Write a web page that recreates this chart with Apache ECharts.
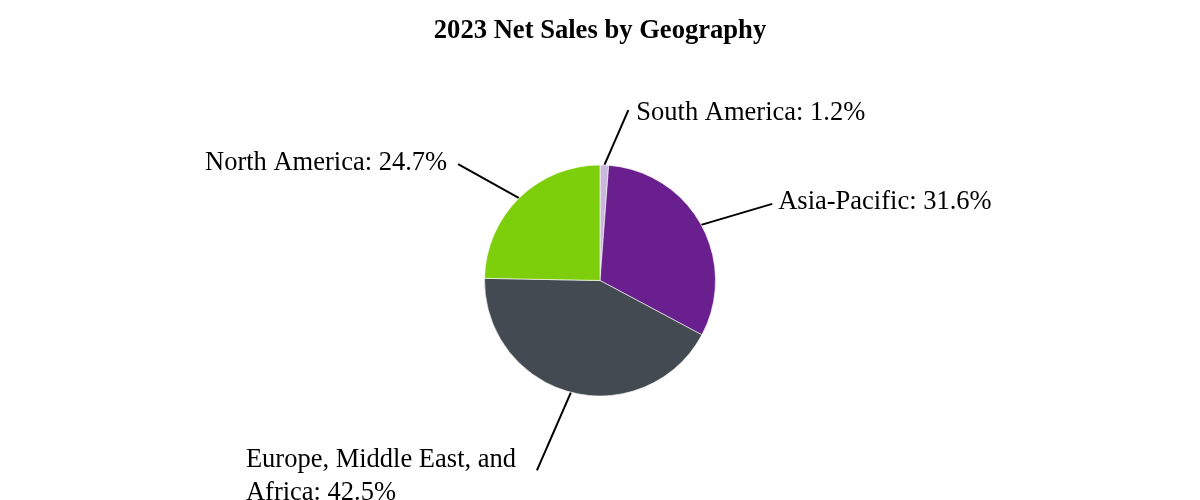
<!DOCTYPE html>
<html>
<head>
<meta charset="utf-8">
<script src="https://cdn.jsdelivr.net/npm/echarts@6/dist/echarts.min.js"></script>
<style>html,body{margin:0;padding:0;background:#fff;}#c{width:1200px;height:500px;}</style>
</head>
<body>
<div id="c"></div>
<script>
const titleText = '2023 Net Sales by Geography';
const categories = ['South America', 'Asia-Pacific', 'Europe, Middle East, and Africa', 'North America'];
const values = [1.2, 31.6, 42.5, 24.7];
const colors = ['#c9b7dc', '#6a1f8e', '#434a51', '#7ecf0b'];

// label placement style: line vector from slice edge, text anchor offset from line end
const labelStyle = [
  {lx: 24, ly: -55, align: 'left', tx: 8, ty: 2.5},
  {lx: 71, ly: -21, align: 'left', tx: 6, ty: -1.5},
  {lx: -34, ly: 78, align: 'left', tx: -291, ty: 6},
  {lx: -61, ly: -34, align: 'right', tx: -11, ty: -1.5}
];

const FONT = "'Liberation Serif', 'Times New Roman', serif";
const chart = echarts.init(document.getElementById('c'), null, {renderer: 'canvas'});
const W = 1200;
const CY = 280.5, R = 115.5;
const total = values.reduce((a, b) => a + b, 0);
const mids = [];
let cum = 0;
values.forEach(v => { mids.push((cum + v / 2) / total * Math.PI * 2); cum += v; });

chart.setOption({
  backgroundColor: '#fff',
  animation: false,
  title: {
    text: titleText, left: 'center', top: 18, padding: 0,
    textStyle: {fontFamily: FONT, fontSize: 26.6, fontWeight: 'bold', color: '#000', lineHeight: 27}
  },
  series: [{
    type: 'pie',
    center: [W / 2, CY],
    radius: R,
    startAngle: 90,
    clockwise: true,
    avoidLabelOverlap: false,
    itemStyle: {borderColor: '#fff', borderWidth: 0.6},
    label: {
      show: true,
      formatter: '{b}: {c}%',
      fontFamily: FONT, fontSize: 26.5, color: '#000', lineHeight: 33,
      width: 290, overflow: 'break'
    },
    labelLine: {show: true, length: 20, length2: 0, lineStyle: {color: '#000', width: 2}},
    labelLayout: function (p) {
      const i = p.dataIndex;
      const s = labelStyle[i];
      const a = mids[i];
      const sx = W / 2 + R * Math.sin(a);
      const sy = CY - R * Math.cos(a);
      const ex = sx + s.lx, ey = sy + s.ly;
      return {
        x: ex + s.tx, y: ey + s.ty,
        align: s.align, verticalAlign: 'middle',
        labelLinePoints: [[sx, sy], [ex, ey]]
      };
    },
    data: categories.map((n, i) => ({name: n, value: values[i], itemStyle: {color: colors[i]}}))
  }]
});
</script>
</body>
</html>
